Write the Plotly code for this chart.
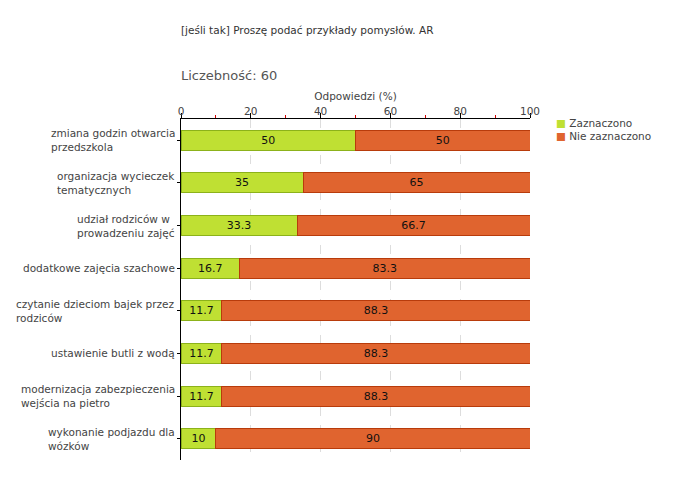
import plotly.graph_objects as go

categories = [
    "zmiana godzin otwarcia<br>przedszkola",
    "organizacja wycieczek<br>tematycznych",
    "udział rodziców w<br>prowadzeniu zajęć",
    "dodatkowe zajęcia szachowe",
    "czytanie dzieciom bajek przez<br>rodziców",
    "ustawienie butli z wodą",
    "modernizacja zabezpieczenia<br>wejścia na pietro",
    "wykonanie podjazdu dla<br>wózków",
]
zaznaczono = [50, 35, 33.3, 16.7, 11.7, 11.7, 11.7, 10]
nie_zaznaczono = [50, 65, 66.7, 83.3, 88.3, 88.3, 88.3, 90]
series_names = ["Zaznaczono", "Nie zaznaczono"]
series_colors = ["#bfe033", "#e0642f"]
series_borders = ["#8cb21a", "#b83b0b"]
x_ticks = [0, 20, 40, 60, 80, 100]

FONT = "DejaVu Sans"
fig = go.Figure()
for name, vals, col, bcol in zip(series_names, [zaznaczono, nie_zaznaczono], series_colors, series_borders):
    fig.add_trace(go.Bar(
        y=categories, x=vals, orientation="h", name=name,
        marker=dict(color=col, line=dict(color=bcol, width=1)),
        text=[f"{v:g}" for v in vals], textposition="inside",
        insidetextanchor="middle", textfont=dict(color="#111", size=11, family=FONT),
        showlegend=False,
    ))

for c in categories:
    fig.add_annotation(x=0, y=c, xref="paper", yref="y", text=c, showarrow=False,
                       xanchor="right", align="left", xshift=-4,
                       font=dict(family=FONT, size=10.5, color="#444"))

# legend (manual, compact)
for i, (name, col) in enumerate(zip(series_names, series_colors)):
    fig.add_annotation(x=1.069, y=1, xref="paper", yref="paper", yshift=-4 - 13 * i,
                       text=f"<span style='color:{col}'>■</span> {name}", showarrow=False,
                       xanchor="left", yanchor="middle",
                       font=dict(family=FONT, size=10.5, color="#444"))

fig.add_annotation(x=0, y=1, xref="paper", yref="paper", yshift=89, text="[jeśli tak] Proszę podać przykłady pomysłów. AR",
                   showarrow=False, xanchor="left", yanchor="middle", xshift=-2,
                   font=dict(family=FONT, size=10.5, color="#333"))
fig.add_annotation(x=0, y=1, xref="paper", yref="paper", yshift=44, text="Liczebność: 60",
                   showarrow=False, xanchor="left", yanchor="middle", xshift=-2,
                   font=dict(family=FONT, size=13, color="#555"))

fig.update_layout(
    width=680, height=480, barmode="stack", bargap=0.53,
    plot_bgcolor="white", paper_bgcolor="white",
    margin=dict(l=173, r=158, t=111, b=28),
    font=dict(family=FONT, size=10.5, color="#444"),
    showlegend=False,
    xaxis=dict(side="top", range=[0, 100], tickvals=x_ticks, showgrid=True,
               gridcolor="#dddddd", griddash="dash", gridwidth=1,
               showline=True, linecolor="black", linewidth=1,
               ticks="outside", ticklen=5, tickcolor="black",
               ticklabelstandoff=-6,
               minor=dict(dtick=10, ticks="outside", ticklen=3, tickcolor="#d00000", showgrid=False),
               zeroline=False,
               title=dict(text="Odpowiedzi (%)", standoff=2, font=dict(size=10.5, color="#444"))),
    yaxis=dict(autorange="reversed", showticklabels=False, showline=True,
               linecolor="black", linewidth=1, ticks="outside", ticklen=3,
               tickcolor="black", showgrid=False),
)

fig.write_html("out.html")
